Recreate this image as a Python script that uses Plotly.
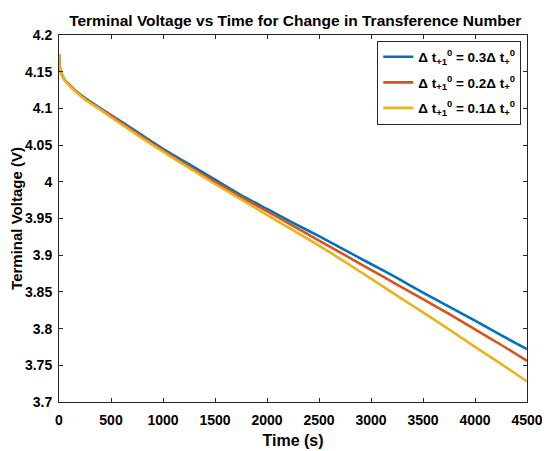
import plotly.graph_objects as go

# time samples (s)
time_s = [0, 3, 8, 15, 30, 60, 100, 150, 250, 400, 500, 750, 1000, 1250, 1500, 1750,
          2000, 2250, 2500, 2750, 3000, 3250, 3500, 3750, 4000, 4250, 4500]

# terminal voltage (V) per transference-number change
v_03 = [4.174, 4.163, 4.156, 4.151, 4.145, 4.138, 4.132, 4.125, 4.114, 4.100, 4.091, 4.068,
        4.045, 4.024, 4.003, 3.982, 3.963, 3.944, 3.926, 3.907, 3.888, 3.869, 3.849, 3.830,
        3.811, 3.791, 3.772]
v_02 = [4.174, 4.163, 4.156, 4.151, 4.145, 4.138, 4.132, 4.125, 4.113, 4.099, 4.090, 4.066,
        4.043, 4.021, 4.000, 3.979, 3.960, 3.940, 3.920, 3.900, 3.880, 3.860, 3.840, 3.820,
        3.799, 3.778, 3.756]
v_01 = [4.174, 4.163, 4.156, 4.151, 4.145, 4.138, 4.131, 4.124, 4.112, 4.098, 4.088, 4.064,
        4.041, 4.019, 3.997, 3.976, 3.955, 3.934, 3.913, 3.891, 3.868, 3.845, 3.822, 3.799,
        3.775, 3.752, 3.728]

labels = ["Δ t<sub>+1</sub><sup>0</sup> = 0.3Δ t<sub>+</sub><sup>0</sup>",
          "Δ t<sub>+1</sub><sup>0</sup> = 0.2Δ t<sub>+</sub><sup>0</sup>",
          "Δ t<sub>+1</sub><sup>0</sup> = 0.1Δ t<sub>+</sub><sup>0</sup>"]
colors = ["#0072BD", "#D95319", "#EDB120"]

fig = go.Figure()
for i, (y, name, c) in enumerate(zip([v_03, v_02, v_01], labels, colors)):
    fig.add_trace(go.Scatter(x=time_s, y=y, mode="lines", name=name, legendgroup=str(i),
                             line=dict(color=c, width=2.6, shape="spline", smoothing=0.6)))

def bold(size):
    return dict(family="Liberation Sans", size=size, color="black", weight="bold")

axis_common = dict(showline=True, linecolor="#262626", linewidth=1, mirror="ticks",
                   ticks="inside", ticklen=4, tickcolor="#262626", showgrid=False,
                   zeroline=False, automargin=False)

# page body has an 8px margin, so the figure is sized 8px smaller
fig.update_layout(
    width=542, height=443,
    margin=dict(l=51, r=23, t=27, b=49),
    paper_bgcolor="white", plot_bgcolor="white",
    font=bold(14),
    title=dict(text="Terminal Voltage vs Time for Change in Transference Number",
               x=0.53, xanchor="center", yref="paper", y=1, yanchor="bottom",
               pad=dict(b=9), font=bold(15.5)),
    legend=dict(x=0.68, y=0.985, xanchor="left", yanchor="top",
                bordercolor="#262626", borderwidth=1, bgcolor="white",
                font=bold(13.5), traceorder="grouped", tracegroupgap=5),
)
fig.update_xaxes(range=[0, 4500], tickvals=list(range(0, 4501, 500)),
                 tickfont=bold(14), ticklabelstandoff=5, title_font=bold(16),
                 title=dict(text="Time (s)", standoff=8), **axis_common)
fig.update_yaxes(range=[3.7, 4.2], tickvals=[3.7 + 0.05 * i for i in range(11)],
                 ticktext=["3.7", "3.75", "3.8", "3.85", "3.9", "3.95", "4", "4.05", "4.1", "4.15", "4.2"],
                 tickfont=bold(14), ticklabelstandoff=3, title_font=bold(15),
                 title=dict(text="Terminal Voltage (V)", standoff=14), **axis_common)

fig.write_html("out.html")
